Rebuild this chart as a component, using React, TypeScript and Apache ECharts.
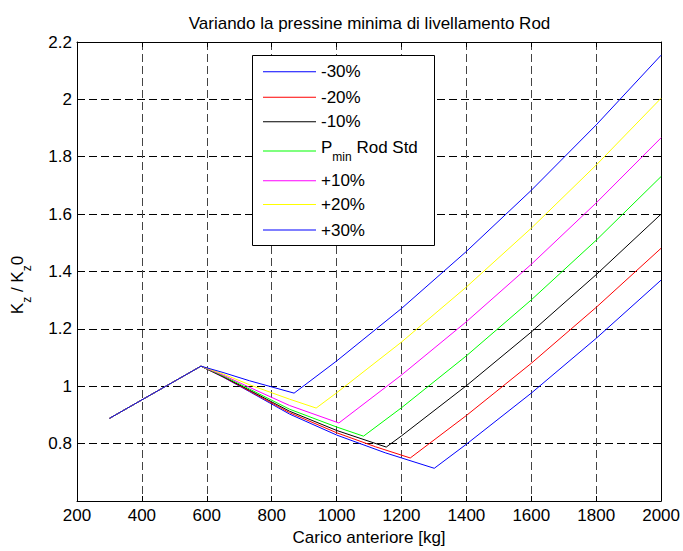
import React, { useEffect, useRef } from 'react';
import * as echarts from 'echarts';

const FONT = '"Liberation Sans", Arial, Helvetica, sans-serif';

const seriesNames = ['-30%', '-20%', '-10%', 'Pmin Rod Std', '+10%', '+20%', '+30%'];
const seriesColors = ['#0000ff', '#ff0000', '#000000', '#00ff00', '#ff00ff', '#ffff00', '#0000ff'];

const loadM30 = [300, 582, 650, 732, 855, 1000, 1150, 1301, 1400, 1600, 1800, 2000];
const kM30 = [0.888, 1.07, 1.032, 0.981, 0.903, 0.83, 0.768, 0.714, 0.798, 0.976, 1.167, 1.37];

const loadM20 = [300, 582, 650, 732, 855, 1000, 1120, 1227, 1400, 1600, 1800, 2000];
const kM20 = [0.888, 1.07, 1.033, 0.983, 0.908, 0.838, 0.789, 0.75, 0.898, 1.08, 1.275, 1.481];

const loadM10 = [300, 582, 650, 732, 855, 1000, 1153, 1200, 1400, 1600, 1800, 2000];
const kM10 = [0.888, 1.07, 1.034, 0.986, 0.913, 0.846, 0.788, 0.827, 1.002, 1.189, 1.389, 1.6];

const loadStd = [300, 582, 650, 732, 855, 1000, 1083, 1200, 1400, 1600, 1800, 2000];
const kStd = [0.888, 1.07, 1.036, 0.99, 0.92, 0.858, 0.826, 0.925, 1.106, 1.301, 1.509, 1.731];

const loadP10 = [300, 582, 650, 732, 855, 1007, 1200, 1400, 1600, 1800, 2000];
const kP10 = [0.888, 1.07, 1.039, 0.996, 0.933, 0.872, 1.039, 1.225, 1.425, 1.639, 1.866];

const loadP20 = [300, 582, 650, 732, 855, 937, 1000, 1200, 1400, 1600, 1800, 2000];
const kP20 = [0.888, 1.07, 1.043, 1.005, 0.955, 0.924, 0.977, 1.154, 1.346, 1.551, 1.771, 2.004];

const loadP30 = [300, 582, 650, 732, 869, 1000, 1200, 1400, 1600, 1800, 2000];
const kP30 = [0.888, 1.07, 1.048, 1.019, 0.976, 1.088, 1.271, 1.47, 1.683, 1.911, 2.154];

const seriesLoads = [loadM30, loadM20, loadM10, loadStd, loadP10, loadP20, loadP30];
const seriesK = [kM30, kM20, kM10, kStd, kP10, kP20, kP30];

const xTicksMin = 200;
const xTicksMax = 2000;
const xTickStep = 200;
const yTicksMin = 0.6;
const yTicksMax = 2.2;
const yTickStep = 0.2;

const titleText = 'Variando la pressine minima di livellamento Rod';
const xLabelText = 'Carico anteriore [kg]';

const legendRowY = [71.7, 97.3, 121.7, 151, 180.8, 204.5, 230];

const RICH_LEGEND = {
  n: { fontSize: 17, fontFamily: FONT, color: '#000', padding: [0, 0, 7, 0] },
  s: { fontSize: 12, fontFamily: FONT, color: '#000', padding: [12, 0, 0, 0] },
};
const RICH_G = {
  n: { fontSize: 17, fontFamily: FONT, fill: '#000', padding: [0, 0, 7, 0] },
  s: { fontSize: 12, fontFamily: FONT, fill: '#000', padding: [12, 0, 0, 0] },
};

export default function App() {
  const ref = useRef<HTMLDivElement>(null);
  useEffect(() => {
    if (!ref.current) return;
    const chart = echarts.init(ref.current, undefined, { renderer: 'svg' });

    const series = seriesNames.map((name, i) => ({
      name,
      type: 'line',
      data: seriesLoads[i].map((x, j) => [x, seriesK[i][j]]),
      showSymbol: false,
      symbol: 'none',
      itemStyle: { color: seriesColors[i] },
      lineStyle: { color: seriesColors[i], width: 1 },
      emphasis: { disabled: true },
      silent: true,
    }));

    const legends = seriesNames.map((name, i) => {
      const isStd = name === 'Pmin Rod Std';
      return {
        data: [name],
        left: 263,
        top: isStd ? legendRowY[i] - 12 : legendRowY[i] - 8.5,
        padding: 0,
        icon: 'rect',
        itemWidth: 53,
        itemHeight: 1,
        selectedMode: false,
        z: 10,
        formatter: isStd ? () => '{n|P}{s|min}{n| Rod Std}' : undefined,
        textStyle: {
          fontSize: 17,
          fontFamily: FONT,
          color: '#000',
          rich: isStd ? RICH_LEGEND : undefined,
        },
      };
    });

    const commonAxisLine = { show: true, onZero: false, lineStyle: { color: '#000', width: 1 } };
    const commonTick = { show: true, inside: true, length: 5, lineStyle: { color: '#000', width: 1 } };

    const option: any = {
      animation: false,
      backgroundColor: '#ffffff',
      grid: { left: 77, top: 42, width: 585, height: 462 },
      xAxis: [
        {
          type: 'value',
          min: xTicksMin,
          max: xTicksMax,
          interval: xTickStep,
          position: 'bottom',
          name: xLabelText,
          nameLocation: 'middle',
          nameGap: 28,
          nameTextStyle: { fontSize: 17, fontFamily: FONT, color: '#000' },
          axisLine: commonAxisLine,
          axisTick: commonTick,
          axisLabel: {
            fontSize: 17,
            fontFamily: FONT,
            color: '#000',
            margin: 6,
            formatter: (v: number) => String(Math.round(v)),
          },
          splitLine: { show: true, lineStyle: { color: '#444', width: 1, type: [8, 4] } },
        },
        {
          type: 'value',
          min: xTicksMin,
          max: xTicksMax,
          interval: xTickStep,
          position: 'top',
          axisLine: commonAxisLine,
          axisTick: commonTick,
          axisLabel: { show: false },
          splitLine: { show: false },
        },
      ],
      yAxis: [
        {
          type: 'value',
          min: yTicksMin,
          max: yTicksMax,
          interval: yTickStep,
          position: 'left',
          axisLine: commonAxisLine,
          axisTick: commonTick,
          axisLabel: {
            fontSize: 17,
            fontFamily: FONT,
            color: '#000',
            margin: 5,
            formatter: (v: number) => (v < 0.7 ? '' : String(parseFloat(v.toFixed(1)))),
          },
          splitLine: { show: true, lineStyle: { color: '#000', width: 1, type: [8, 4] } },
        },
        {
          type: 'value',
          min: yTicksMin,
          max: yTicksMax,
          interval: yTickStep,
          position: 'right',
          axisLine: commonAxisLine,
          axisTick: commonTick,
          axisLabel: { show: false },
          splitLine: { show: false },
        },
      ],
      legend: legends,
      graphic: {
        elements: [
          {
            type: 'rect',
            z: 5,
            silent: true,
            shape: { x: 252.5, y: 55.5, width: 182, height: 190 },
            style: { fill: '#ffffff', stroke: '#000000', lineWidth: 1 },
          },
          {
            type: 'text',
            x: 369.5,
            y: 23,
            silent: true,
            style: {
              text: titleText,
              fontSize: 17,
              fontFamily: FONT,
              fill: '#000',
              textAlign: 'center',
              textVerticalAlign: 'middle',
              align: 'center',
              verticalAlign: 'middle',
            },
          },
          {
            type: 'text',
            x: 21,
            y: 285,
            rotation: Math.PI / 2,
            silent: true,
            style: {
              text: '{n|K}{s|z}{n| / K}{s|z}{n|0}',
              rich: RICH_G,
              fontSize: 17,
              fontFamily: FONT,
              fill: '#000',
              textAlign: 'center',
              textVerticalAlign: 'middle',
              align: 'center',
              verticalAlign: 'middle',
            },
          },
        ],
      },
      series,
    };

    chart.setOption(option);
    return () => chart.dispose();
  }, []);

  return (
    <div
      ref={ref}
      style={{ position: 'absolute', left: 0, top: 0, width: 683, height: 551, background: '#fff' }}
    />
  );
}
